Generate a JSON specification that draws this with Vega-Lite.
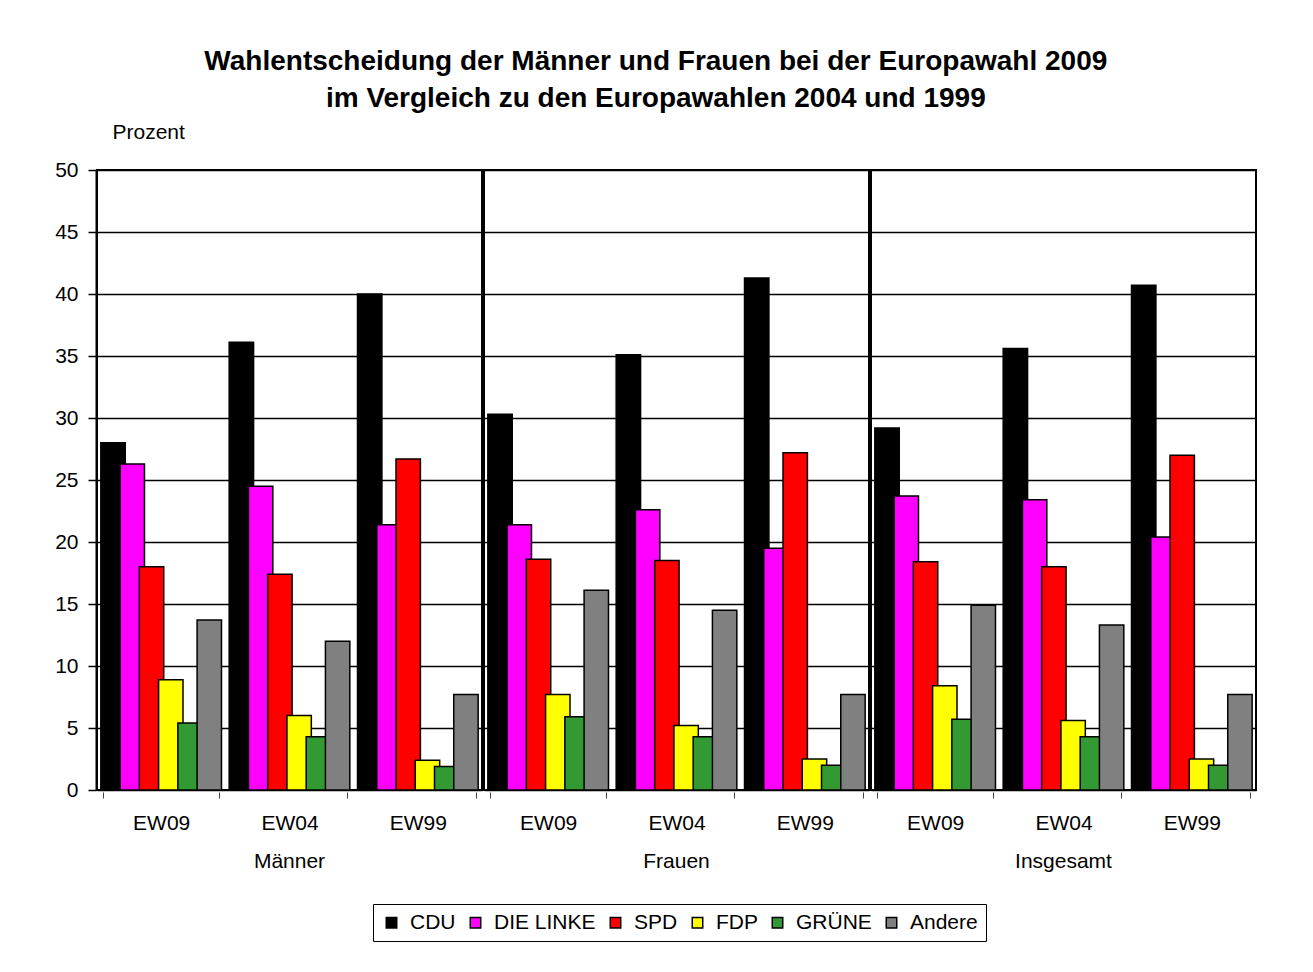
{
  "$schema": "https://vega.github.io/schema/vega-lite/v6.json",
  "padding": {"left": 54, "top": 48, "right": 5, "bottom": 5},
  "title": {
    "text": ["Wahlentscheidung der Männer und Frauen bei der Europawahl 2009", "im Vergleich zu den Europawahlen 2004 und 1999"],
    "fontSize": 28, "fontWeight": "bold", "lineHeight": 37, "anchor": "middle", "offset": 8, "color": "black"
  },
  "data": {"values": [
    {"g": "Männer", "w": "EW09", "p": "CDU", "v": 28.0},
    {"g": "Männer", "w": "EW09", "p": "DIE LINKE", "v": 26.3},
    {"g": "Männer", "w": "EW09", "p": "SPD", "v": 18.0},
    {"g": "Männer", "w": "EW09", "p": "FDP", "v": 8.9},
    {"g": "Männer", "w": "EW09", "p": "GRÜNE", "v": 5.4},
    {"g": "Männer", "w": "EW09", "p": "Andere", "v": 13.7},
    {"g": "Männer", "w": "EW04", "p": "CDU", "v": 36.1},
    {"g": "Männer", "w": "EW04", "p": "DIE LINKE", "v": 24.5},
    {"g": "Männer", "w": "EW04", "p": "SPD", "v": 17.4},
    {"g": "Männer", "w": "EW04", "p": "FDP", "v": 6.0},
    {"g": "Männer", "w": "EW04", "p": "GRÜNE", "v": 4.3},
    {"g": "Männer", "w": "EW04", "p": "Andere", "v": 12.0},
    {"g": "Männer", "w": "EW99", "p": "CDU", "v": 40.0},
    {"g": "Männer", "w": "EW99", "p": "DIE LINKE", "v": 21.4},
    {"g": "Männer", "w": "EW99", "p": "SPD", "v": 26.7},
    {"g": "Männer", "w": "EW99", "p": "FDP", "v": 2.4},
    {"g": "Männer", "w": "EW99", "p": "GRÜNE", "v": 1.9},
    {"g": "Männer", "w": "EW99", "p": "Andere", "v": 7.7},
    {"g": "Frauen", "w": "EW09", "p": "CDU", "v": 30.3},
    {"g": "Frauen", "w": "EW09", "p": "DIE LINKE", "v": 21.4},
    {"g": "Frauen", "w": "EW09", "p": "SPD", "v": 18.6},
    {"g": "Frauen", "w": "EW09", "p": "FDP", "v": 7.7},
    {"g": "Frauen", "w": "EW09", "p": "GRÜNE", "v": 5.9},
    {"g": "Frauen", "w": "EW09", "p": "Andere", "v": 16.1},
    {"g": "Frauen", "w": "EW04", "p": "CDU", "v": 35.1},
    {"g": "Frauen", "w": "EW04", "p": "DIE LINKE", "v": 22.6},
    {"g": "Frauen", "w": "EW04", "p": "SPD", "v": 18.5},
    {"g": "Frauen", "w": "EW04", "p": "FDP", "v": 5.2},
    {"g": "Frauen", "w": "EW04", "p": "GRÜNE", "v": 4.3},
    {"g": "Frauen", "w": "EW04", "p": "Andere", "v": 14.5},
    {"g": "Frauen", "w": "EW99", "p": "CDU", "v": 41.3},
    {"g": "Frauen", "w": "EW99", "p": "DIE LINKE", "v": 19.5},
    {"g": "Frauen", "w": "EW99", "p": "SPD", "v": 27.2},
    {"g": "Frauen", "w": "EW99", "p": "FDP", "v": 2.5},
    {"g": "Frauen", "w": "EW99", "p": "GRÜNE", "v": 2.0},
    {"g": "Frauen", "w": "EW99", "p": "Andere", "v": 7.7},
    {"g": "Insgesamt", "w": "EW09", "p": "CDU", "v": 29.2},
    {"g": "Insgesamt", "w": "EW09", "p": "DIE LINKE", "v": 23.7},
    {"g": "Insgesamt", "w": "EW09", "p": "SPD", "v": 18.4},
    {"g": "Insgesamt", "w": "EW09", "p": "FDP", "v": 8.4},
    {"g": "Insgesamt", "w": "EW09", "p": "GRÜNE", "v": 5.7},
    {"g": "Insgesamt", "w": "EW09", "p": "Andere", "v": 14.9},
    {"g": "Insgesamt", "w": "EW04", "p": "CDU", "v": 35.6},
    {"g": "Insgesamt", "w": "EW04", "p": "DIE LINKE", "v": 23.4},
    {"g": "Insgesamt", "w": "EW04", "p": "SPD", "v": 18.0},
    {"g": "Insgesamt", "w": "EW04", "p": "FDP", "v": 5.6},
    {"g": "Insgesamt", "w": "EW04", "p": "GRÜNE", "v": 4.3},
    {"g": "Insgesamt", "w": "EW04", "p": "Andere", "v": 13.3},
    {"g": "Insgesamt", "w": "EW99", "p": "CDU", "v": 40.7},
    {"g": "Insgesamt", "w": "EW99", "p": "DIE LINKE", "v": 20.4},
    {"g": "Insgesamt", "w": "EW99", "p": "SPD", "v": 27.0},
    {"g": "Insgesamt", "w": "EW99", "p": "FDP", "v": 2.5},
    {"g": "Insgesamt", "w": "EW99", "p": "GRÜNE", "v": 2.0},
    {"g": "Insgesamt", "w": "EW99", "p": "Andere", "v": 7.7}
  ]},
  "facet": {
    "column": {
      "field": "g", "type": "nominal", "sort": ["Männer", "Frauen", "Insgesamt"],
      "header": {"title": null, "labelOrient": "bottom", "labelFontSize": 21, "labelPadding": 18, "labelColor": "black"}
    }
  },
  "spacing": 0,
  "spec": {
    "width": 385,
    "height": 620,
    "mark": {"type": "bar", "width": 24.4, "stroke": "black", "strokeWidth": 1.5},
    "encoding": {
      "x": {
        "field": "w", "type": "nominal", "sort": ["EW09", "EW04", "EW99"],
        "scale": {"paddingInner": 0.1, "paddingOuter": 0.05},
        "axis": {"title": null, "labelAngle": 0, "labelFontSize": 21, "labelColor": "black", "labelPadding": 14,
                 "tickBand": "extent", "tickSize": 6, "tickColor": "#444", "tickWidth": 1, "domain": false, "grid": false}
      },
      "xOffset": {
        "field": "p", "type": "nominal", "sort": ["CDU", "DIE LINKE", "SPD", "FDP", "GRÜNE", "Andere"],
        "scale": {"paddingInner": 0, "paddingOuter": 0}
      },
      "y": {
        "field": "v", "type": "quantitative",
        "scale": {"domain": [0, 50], "nice": false},
        "axis": {"values": [0, 5, 10, 15, 20, 25, 30, 35, 40, 45, 50], "title": "Prozent", "titleAngle": 0,
                 "titleX": 16, "titleY": -32, "titleAlign": "left", "titleBaseline": "alphabetic",
                 "titleFontSize": 21, "titleFontWeight": "normal", "titleColor": "black",
                 "labelFontSize": 21, "labelColor": "black", "labelPadding": 10,
                 "tickSize": 8, "tickColor": "black", "tickWidth": 1.5,
                 "domainColor": "black", "domainWidth": 2,
                 "grid": true, "gridColor": "black", "gridWidth": 1.5, "gridOpacity": 1}
      },
      "color": {
        "field": "p", "type": "nominal", "sort": ["CDU", "DIE LINKE", "SPD", "FDP", "GRÜNE", "Andere"],
        "scale": {"domain": ["CDU", "DIE LINKE", "SPD", "FDP", "GRÜNE", "Andere"],
                  "range": ["#000000", "#ff00ff", "#ff0000", "#ffff00", "#339933", "#808080"]},
        "legend": {"title": null, "orient": "none", "direction": "horizontal", "legendX": 276, "legendY": 734,
                   "symbolType": "square", "symbolSize": 110, "symbolStrokeColor": "black", "symbolStrokeWidth": 1.5,
                   "labelFontSize": 21, "labelColor": "black", "labelOffset": 8, "columnPadding": 9,
                   "strokeColor": "black", "padding": 8}
      }
    }
  },
  "config": {
    "font": "Liberation Sans",
    "view": {"stroke": "black", "strokeWidth": 2},
    "axis": {"labelFont": "Liberation Sans", "titleFont": "Liberation Sans"}
  }
}
